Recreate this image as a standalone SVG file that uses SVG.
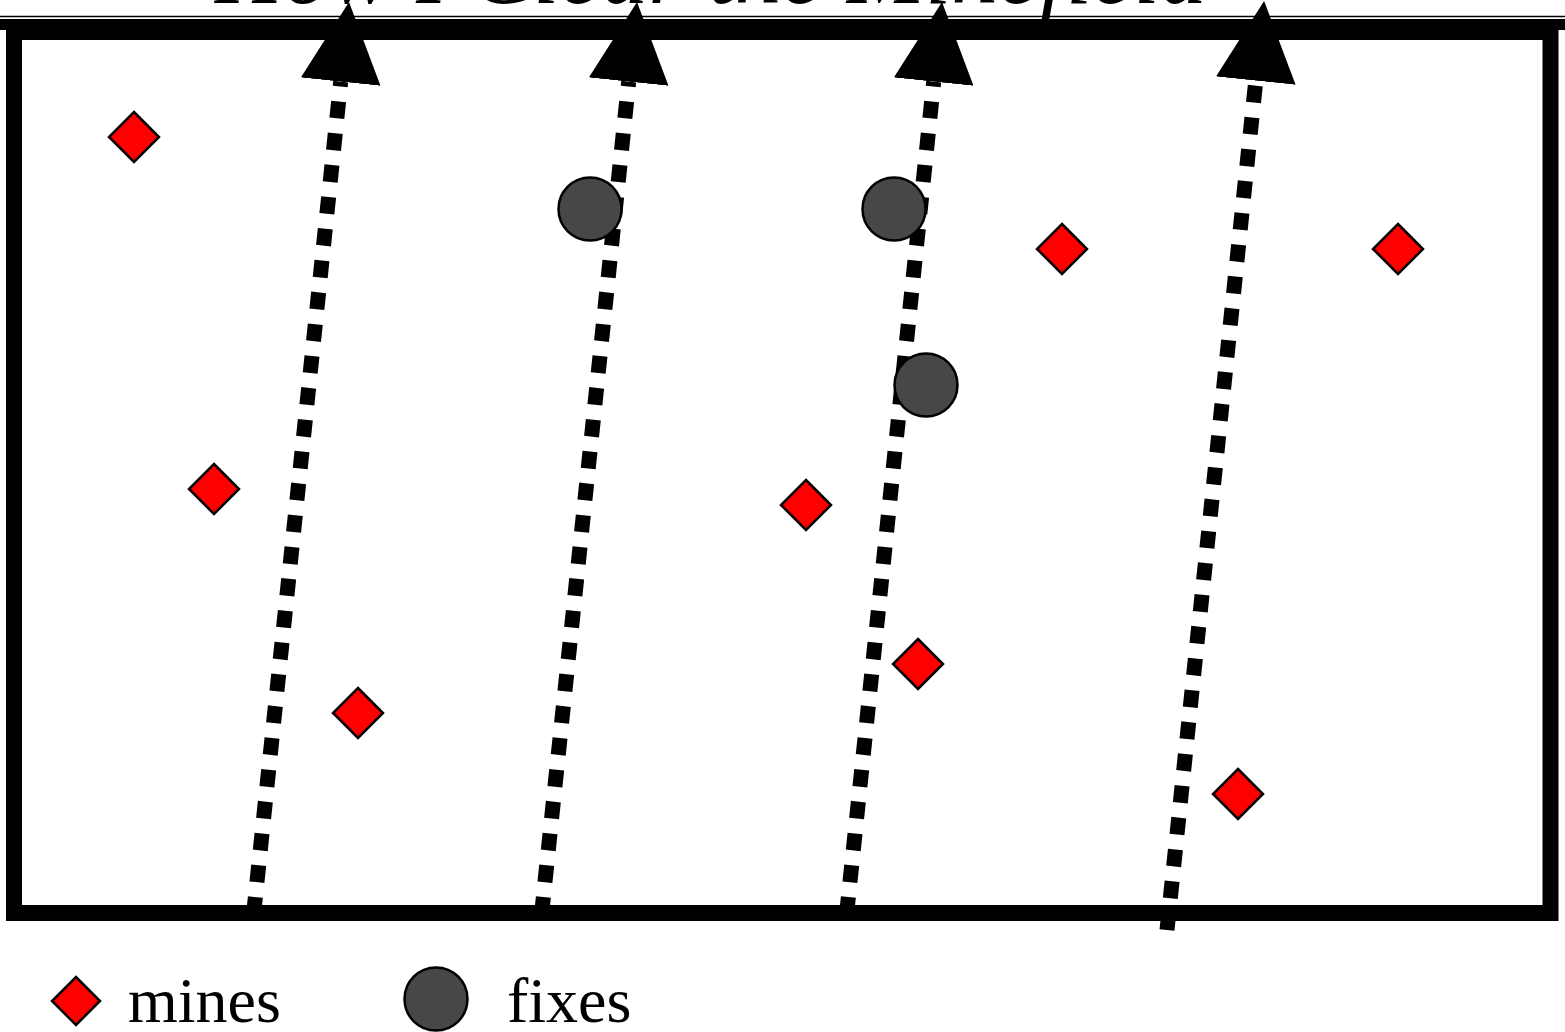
<svg xmlns="http://www.w3.org/2000/svg" width="1565" height="1032" viewBox="0 0 1565 1032">
  <style>
    .mine { fill: #ff0000; stroke: #000000; stroke-width: 2.5; }
    .fix { fill: #474747; stroke: #000000; stroke-width: 2.5; }
    .path { fill: none; stroke: #000000; stroke-width: 15; stroke-dasharray: 17 15; marker-end: url(#head); }
    .label { font-family: "Liberation Serif", "Times New Roman", serif; font-size: 64px; fill: #000000; }
    .title { font-family: "Liberation Serif", "Times New Roman", serif; font-style: italic; font-size: 94px; fill: #000000; }
  </style>
  <defs>
    <marker id="head" viewBox="0 0 80 80" refX="0" refY="40" markerWidth="80" markerHeight="80" markerUnits="userSpaceOnUse" orient="auto">
      <path d="M0,0 L80,40 L0,80 Z" fill="#000000"/>
    </marker>
  </defs>

  <rect width="1565" height="1032" fill="#ffffff"/>

  <!-- title, mostly above the top edge -->
  <text class="title" x="215" y="3">How I Clear the Minefield</text>

  <!-- field border -->
  <g id="field">
    <line x1="0" y1="16.5" x2="1565" y2="16.5" stroke="#000000" stroke-width="1.5"/>
    <line x1="0" y1="24.5" x2="1565" y2="24.5" stroke="#000000" stroke-width="11"/>
    <rect x="14" y="32" width="1536.5" height="881" fill="none" stroke="#000000" stroke-width="16"/>
  </g>

  <!-- sweep paths -->
  <g id="connectors">
    <path class="path" d="M253.6,914 L340.7,81.6"/>
    <path class="path" d="M541.6,914 L628.7,81.6"/>
    <path class="path" d="M846.6,914 L933.7,81.6"/>
    <path class="path" d="M1167,930 L1255.8,80.6"/>
  </g>

  <!-- mines -->
  <g id="mine1"><polygon class="mine" points="134,112 159,137 134,162 109,137"/></g>
  <g id="mine2"><polygon class="mine" points="214,464 239,489 214,514 189,489"/></g>
  <g id="mine3"><polygon class="mine" points="358,688 383,713 358,738 333,713"/></g>
  <g id="mine4"><polygon class="mine" points="806,480 831,505 806,530 781,505"/></g>
  <g id="mine5"><polygon class="mine" points="918,639 943,664 918,689 893,664"/></g>
  <g id="mine6"><polygon class="mine" points="1062,224 1087,249 1062,274 1037,249"/></g>
  <g id="mine7"><polygon class="mine" points="1398,224 1423,249 1398,274 1373,249"/></g>
  <g id="mine8"><polygon class="mine" points="1238,769 1263,794 1238,819 1213,794"/></g>

  <!-- fixes -->
  <g id="fix1"><circle class="fix" cx="590" cy="209" r="31.5"/></g>
  <g id="fix2"><circle class="fix" cx="894" cy="209" r="31.5"/></g>
  <g id="fix3"><circle class="fix" cx="926" cy="385" r="31.5"/></g>

  <!-- legend -->
  <g id="legend-mines">
    <polygon class="mine" points="76,977 100,1001 76,1025 52,1001"/>
    <text class="label" x="128" y="1022">mines</text>
  </g>
  <g id="legend-fixes">
    <circle class="fix" cx="436" cy="999" r="31.5"/>
    <text class="label" x="507" y="1022">fixes</text>
  </g>
</svg>
